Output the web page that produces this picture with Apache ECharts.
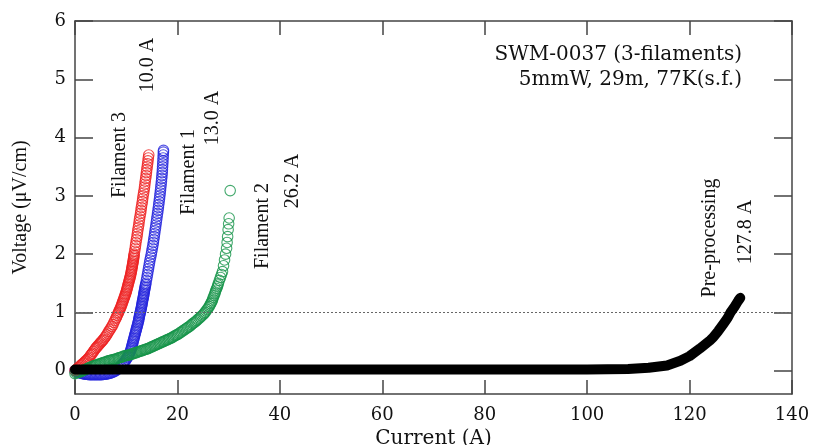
<!DOCTYPE html>
<html>
<head>
<meta charset="utf-8">
<script src="https://cdn.jsdelivr.net/npm/echarts@6/dist/echarts.min.js"></script>
<style>
html,body{margin:0;padding:0;background:#fff;}
#chart{width:815px;height:445px;}
</style>
</head>
<body>
<div id="chart"></div>
<script>
// ---- data (Current A, Voltage uV/cm) ----
const filament3 = [[0,0],[0.2,0.015],[0.4,0.03],[0.6,0.045],[0.8,0.06],[1.0,0.08],[1.2,0.095],[1.4,0.11],[1.6,0.125],[1.8,0.14],[2.0,0.16],[2.2,0.175],[2.4,0.19],[2.6,0.21],[2.8,0.23],[3.0,0.26],[3.2,0.28],[3.4,0.3],[3.6,0.33],[3.8,0.355],[4.0,0.38],[4.2,0.4],[4.4,0.42],[4.6,0.44],[4.8,0.46],[5.0,0.48],[5.2,0.5],[5.4,0.52],[5.6,0.54],[5.8,0.565],[6.0,0.59],[6.2,0.615],[6.4,0.645],[6.6,0.675],[6.8,0.7],[7.0,0.73],[7.2,0.76],[7.4,0.79],[7.6,0.83],[7.8,0.865],[8.0,0.9],[8.1,0.92],
[8.25,0.95],[8.37,0.975],[8.5,1.0],[8.62,1.025],[8.75,1.05],[8.87,1.075],[9.0,1.1],[9.1,1.125],[9.2,1.15],[9.3,1.175],[9.4,1.2],[9.5,1.225],[9.6,1.25],[9.7,1.275],[9.8,1.3],[9.9,1.325],[10.0,1.35],[10.07,1.375],[10.15,1.4],[10.22,1.425],[10.3,1.45],[10.37,1.475],[10.45,1.5],[10.52,1.525],[10.6,1.55],[10.67,1.575],[10.75,1.6],[10.82,1.625],[10.88,1.65],[10.94,1.675],[11.0,1.7],[11.05,1.725],[11.1,1.75],[11.15,1.775],[11.2,1.8],[11.25,1.825],[11.3,1.85],[11.35,1.875],[11.4,1.9],[11.44,1.925],[11.48,1.95],[11.52,1.975],[11.55,2.0],[11.65,2.05],[11.75,2.1],[11.82,2.15],[11.9,2.2],[12.0,2.25],[12.1,2.3],[12.18,2.35],[12.25,2.4],[12.35,2.45],[12.45,2.5],[12.52,2.55],[12.6,2.6],[12.7,2.65],[12.8,2.7],[12.88,2.75],[12.95,2.8],[13.05,2.85],[13.15,2.9],[13.22,2.95],[13.3,3.0],[13.4,3.05],[13.5,3.1],[13.58,3.15],[13.65,3.2],[13.72,3.25],[13.8,3.3],[13.88,3.35],[13.95,3.4],[14.02,3.45],[14.1,3.5],[14.18,3.55],[14.25,3.6],[14.32,3.65],[14.4,3.7]];
const filament1 = [[0,0],[0.25,-0.01],[0.5,-0.02],[0.75,-0.03],[1,-0.04],[1.25,-0.045],[1.5,-0.05],[1.75,-0.055],[2,-0.06],[2.25,-0.062],[2.5,-0.065],[2.75,-0.068],[3,-0.07],[3.25,-0.07],[3.5,-0.07],[3.75,-0.07],[4,-0.07],[4.25,-0.07],[4.5,-0.07],[4.75,-0.07],[5,-0.07],[5.25,-0.068],[5.5,-0.065],[5.75,-0.062],[6,-0.06],[6.25,-0.055],[6.5,-0.05],[6.75,-0.045],[7,-0.04],[7.25,-0.03],[7.5,-0.02],[7.75,-0.01],
[8.0,0.0],[8.3,0.025],[8.6,0.05],[8.9,0.075],[9.2,0.1],[9.45,0.125],[9.65,0.15],[9.85,0.175],[10.05,0.2],[10.22,0.225],[10.4,0.25],[10.52,0.275],[10.65,0.3],[10.78,0.325],[10.9,0.35],[10.98,0.375],[11.05,0.4],[11.12,0.425],[11.2,0.45],[11.28,0.475],[11.35,0.5],[11.42,0.525],[11.5,0.55],[11.58,0.575],[11.65,0.6],[11.72,0.625],[11.8,0.65],[11.88,0.675],[11.95,0.7],[12.02,0.725],[12.1,0.75],[12.18,0.775],[12.25,0.8],[12.32,0.825],[12.4,0.85],[12.45,0.875],[12.5,0.9],[12.56,0.925],[12.62,0.95],[12.68,0.975],[12.75,1.0],[12.82,1.025],[12.88,1.05],[12.94,1.075],[13.0,1.1],[13.05,1.125],[13.1,1.15],[13.15,1.175],[13.2,1.2],[13.26,1.225],[13.32,1.25],[13.37,1.275],[13.42,1.3],[13.47,1.325],[13.52,1.35],[13.57,1.375],[13.62,1.4],[13.68,1.425],[13.73,1.45],[13.79,1.475],[13.85,1.5],[13.95,1.55],[14.05,1.6],[14.15,1.65],[14.25,1.7],[14.35,1.75],[14.45,1.8],[14.55,1.85],[14.65,1.9],[14.78,1.95],[14.9,2.0],[15.0,2.05],[15.1,2.1],[15.2,2.15],[15.3,2.2],[15.38,2.25],[15.47,2.3],[15.55,2.35],[15.63,2.4],[15.72,2.45],[15.8,2.5],[15.88,2.55],[15.96,2.6],[16.04,2.65],[16.12,2.7],[16.2,2.75],[16.28,2.8],[16.35,2.85],[16.42,2.9],[16.5,2.95],[16.57,3.0],[16.63,3.05],[16.7,3.1],[16.76,3.15],[16.82,3.2],[16.88,3.25],[16.93,3.3],[16.98,3.35],[17.03,3.4],[17.07,3.45],[17.1,3.5],[17.14,3.55],[17.17,3.6],[17.2,3.65],[17.23,3.7],[17.26,3.75],[17.28,3.78]];
const filament2 = [[0,-0.05],[0.25,-0.04],[0.5,-0.03],[0.75,-0.025],[1,-0.02],[1.25,-0.01],[1.5,0.0],[1.75,0.01],[2,0.02],[2.25,0.03],[2.5,0.04],[2.75,0.05],[3,0.06],[3.25,0.07],[3.5,0.08],[3.75,0.085],[4,0.09],[4.25,0.1],[4.5,0.11],[4.75,0.115],[5,0.12],[5.25,0.13],[5.5,0.14],[5.75,0.145],[6,0.15],[6.25,0.16],[6.5,0.17],[6.75,0.175],[7,0.18],[7.25,0.185],[7.5,0.19],[7.75,0.195],[8,0.2],[8.25,0.21],[8.5,0.22],[8.75,0.225],[9,0.23],[9.25,0.24],[9.5,0.25],[9.75,0.255],[10,0.26],[10.25,0.265],[10.5,0.27],[10.75,0.275],[11,0.28],[11.25,0.29],[11.5,0.3],[11.75,0.305],[12,0.31],[12.25,0.32],[12.5,0.33],[12.75,0.335],[13,0.34],[13.25,0.35],[13.5,0.36],[13.75,0.365],[14,0.37],[14.25,0.38],[14.5,0.39],[14.75,0.4],[15,0.41],[15.25,0.42],[15.5,0.43],[15.75,0.44],[16,0.45],[16.25,0.46],[16.5,0.47],[16.75,0.48],[17,0.49],[17.25,0.5],[17.5,0.51],[17.75,0.52],[18,0.53],[18.25,0.54],[18.5,0.55],[18.75,0.56],[19,0.57],[19.25,0.585],[19.5,0.6],[19.75,0.61],[20,0.62],[20.25,0.635],[20.5,0.65],[20.75,0.665],[21,0.68],[21.25,0.695],[21.5,0.71],[21.75,0.725],[22,0.74],[22.25,0.755],[22.5,0.77],[22.75,0.79],[23,0.81],[23.25,0.825],[23.5,0.84],[23.75,0.86],[24,0.88],[24.25,0.9],[24.5,0.92],[24.75,0.94],[25,0.96],[25.2,0.98],[25.4,1.0],[25.6,1.025],[25.8,1.05],[26,1.075],[26.2,1.1],[26.35,1.125],[26.5,1.15],[26.65,1.175],[26.8,1.2],[26.9,1.23],[27,1.26],[27.15,1.29],[27.3,1.32],[27.4,1.35],[27.5,1.38],[27.65,1.41],[27.8,1.44],[27.9,1.47],[28,1.5],[28.2,1.55],[28.4,1.6],[28.6,1.65],[28.8,1.7],
[29,1.8],[29.2,1.9],[29.4,2.0],[29.6,2.1],[29.7,2.2],[29.8,2.3],[29.9,2.42],[30,2.52],[30.1,2.62],[30.3,3.09]];
const preProcessing = [[0,0.02],[20,0.02],[40,0.02],[60,0.02],[80,0.02],[100,0.02],[108,0.03],[112,0.05],[115.6,0.09],[118.2,0.17],[120,0.25],[122,0.38],[124,0.52],[124.6,0.57],[125.6,0.68],[126.6,0.8],[127.4,0.9],[128,1.0],[128.8,1.1],[129.5,1.2],[129.9,1.25]];
const yTickValues = [0,1,2,3,4,5,6];
const thresholdV = 1;
const annotationLines = ['SWM-0037 (3-filaments)', '5mmW, 29m, 77K(s.f.)'];
const curveLabels = ['Filament 3','10.0 A','Filament 1','13.0 A','Filament 2','26.2 A','Pre-processing','127.8 A'];

const axisColor = '#444';
const tickFont = {fontFamily:'DejaVu Serif', fontSize:18, color:'#111'};

function ringSeries(name, data, color){
  return {
    name, type:'scatter', data,
    symbol:'circle', symbolSize:10.5,
    itemStyle:{color:'rgba(0,0,0,0)', borderColor:color, borderWidth:1.1},
    emphasis:{disabled:true}, large:false
  };
}

const labelPos = [[120,155],[148,65],[189,172],[213,118],[263,226],[293,181],[710,238],[746,232]];
const graphics = curveLabels.map((t,i)=>({
  type:'text', x:labelPos[i][0], y:labelPos[i][1], rotation:Math.PI/2,
  style:{text:t, font:'20px "Liberation Serif"', fill:'#111',
         textAlign:'center', textVerticalAlign:'middle', align:'center', verticalAlign:'middle'}
}));
annotationLines.forEach((t,i)=>{
  graphics.push({type:'text', x:742, y:55+i*25,
    style:{text:t, font:'20px "DejaVu Serif"', fill:'#111',
           textAlign:'right', textVerticalAlign:'middle', align:'right', verticalAlign:'middle'}});
});

const chart = echarts.init(document.getElementById('chart'), null, {renderer:'canvas'});
chart.setOption({
  animation:false,
  backgroundColor:'#fff',
  grid:{left:75,right:23,top:21,bottom:51,containLabel:false,outerBoundsMode:'none'},
  xAxis:[{
    type:'value', min:0, max:140, interval:20, position:'bottom',
    axisLine:{show:true,onZero:false,lineStyle:{color:axisColor,width:1.5}},
    axisTick:{show:true,inside:true,length:14,lineStyle:{color:axisColor,width:1.5}},
    axisLabel:Object.assign({margin:12}, tickFont),
    splitLine:{show:false},
    name:'Current (A)', nameLocation:'middle', nameGap:28,
    nameTextStyle:{fontFamily:'DejaVu Serif', fontSize:20, color:'#111'}
  },{
    type:'value', min:0, max:140, interval:20, position:'top',
    axisLine:{show:true,onZero:false,lineStyle:{color:axisColor,width:1.5}},
    axisTick:{show:true,inside:true,length:14,lineStyle:{color:axisColor,width:1.5}},
    axisLabel:{show:false}, splitLine:{show:false}
  }],
  yAxis:[{
    type:'value', min:-0.4, max:6, position:'left',
    axisLine:{show:true,onZero:false,lineStyle:{color:axisColor,width:1.5}},
    axisTick:{show:true,inside:true,length:18,customValues:yTickValues,lineStyle:{color:axisColor,width:1.5}},
    axisLabel:Object.assign({margin:9, customValues:yTickValues}, tickFont),
    splitLine:{show:false},
    name:'Voltage (\u03bcV/cm)', nameLocation:'middle', nameGap:44, nameRotate:90,
    nameTextStyle:{fontFamily:'Liberation Serif', fontSize:20, color:'#111'}
  },{
    type:'value', min:-0.4, max:6, position:'right',
    axisLine:{show:true,onZero:false,lineStyle:{color:axisColor,width:1.5}},
    axisTick:{show:true,inside:true,length:18,customValues:yTickValues,lineStyle:{color:axisColor,width:1.5}},
    axisLabel:{show:false,customValues:yTickValues}, splitLine:{show:false}
  }],
  series:[
    ringSeries('Filament 1', filament1, '#2424dc'),
    ringSeries('Filament 3', filament3, '#ee2222'),
    ringSeries('Filament 2', filament2, '#159448'),
    {
      name:'Pre-processing', type:'line', data:preProcessing, showSymbol:false, clip:false,
      lineStyle:{color:'#000', width:10, cap:'round', join:'round'},
      markLine:{
        silent:true, symbol:['none','none'], label:{show:false},
        lineStyle:{color:'#666', width:1, type:[2,2]},
        data:[{yAxis:thresholdV}]
      },
      z:5
    }
  ],
  graphic:graphics
});
</script>
</body>
</html>
